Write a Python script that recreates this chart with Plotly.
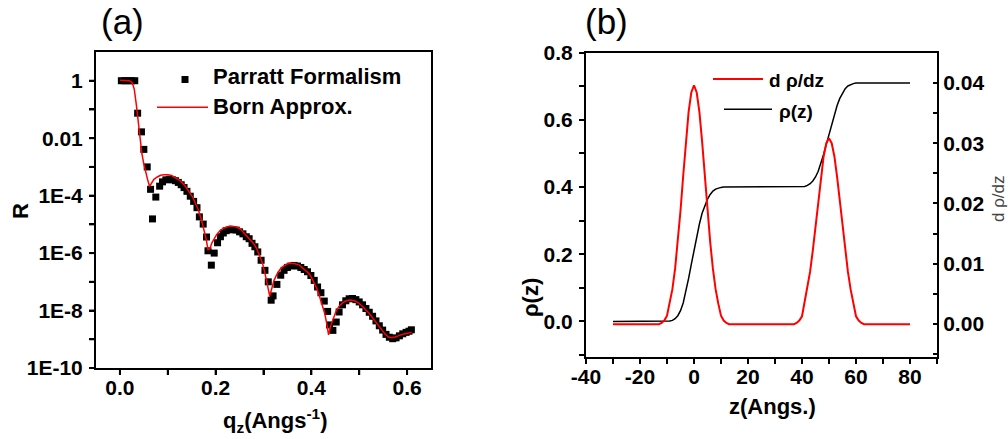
import plotly.graph_objects as go

W, H = 1008, 439

# ---------------- panel (a): reflectivity (R stored as log10 R) ----------------
parratt_q = [0.003, 0.010, 0.017, 0.024, 0.031, 0.037, 0.045, 0.050, 0.057, 0.064,
             0.068, 0.075, 0.083, 0.089, 0.096, 0.103, 0.110, 0.116, 0.122, 0.128,
             0.134, 0.140, 0.147, 0.154, 0.161, 0.166, 0.174, 0.181, 0.184, 0.191,
             0.197, 0.204, 0.210, 0.216, 0.222, 0.229, 0.236, 0.243, 0.250, 0.257,
             0.264, 0.270, 0.276, 0.282, 0.288, 0.295, 0.303, 0.310, 0.316, 0.320,
             0.328, 0.336, 0.343, 0.350, 0.357, 0.364, 0.371, 0.378, 0.385, 0.392,
             0.399, 0.406, 0.413, 0.420, 0.427, 0.434, 0.438, 0.445, 0.452, 0.458,
             0.465, 0.472, 0.479, 0.486, 0.493, 0.500, 0.507, 0.514, 0.521, 0.528,
             0.535, 0.542, 0.549, 0.556, 0.563, 0.570, 0.577, 0.584, 0.591, 0.598,
             0.604, 0.609]
parratt_log10_R = [0.0, 0.0, 0.0, 0.0, 0.0, -1.13, -1.78, -2.39, -3.0, -3.78,
                   -4.81, -4.05, -3.67, -3.52, -3.45, -3.43, -3.45, -3.48, -3.54, -3.62,
                   -3.72, -3.85, -4.02, -4.2, -4.42, -4.74, -4.99, -5.44, -5.92, -6.42,
                   -6.0, -5.64, -5.43, -5.3, -5.22, -5.19, -5.18, -5.2, -5.26, -5.33,
                   -5.43, -5.5, -5.66, -5.78, -5.96, -6.25, -6.6, -7.0, -7.64, -7.49,
                   -7.09, -6.77, -6.6, -6.5, -6.45, -6.43, -6.45, -6.5, -6.57, -6.65,
                   -6.78, -6.95, -7.18, -7.38, -7.67, -8.03, -8.5, -8.69, -8.4, -8.05,
                   -7.8, -7.66, -7.59, -7.58, -7.62, -7.7, -7.8, -7.93, -8.06, -8.2,
                   -8.36, -8.53, -8.68, -8.83, -8.93, -8.98, -8.95, -8.88, -8.81, -8.76,
                   -8.72, -8.67]

born_q = [0.000, 0.010, 0.020, 0.026, 0.030, 0.034, 0.038, 0.042, 0.046, 0.050,
          0.054, 0.058, 0.062, 0.066, 0.071, 0.078, 0.085, 0.092, 0.100, 0.108,
          0.116, 0.124, 0.131, 0.138, 0.145, 0.152, 0.158, 0.164, 0.170, 0.175,
          0.180, 0.184, 0.188, 0.192, 0.197, 0.202, 0.208, 0.215, 0.222, 0.230,
          0.238, 0.245, 0.252, 0.259, 0.266, 0.273, 0.280, 0.286, 0.292, 0.298,
          0.303, 0.308, 0.313, 0.317, 0.322, 0.328, 0.334, 0.341, 0.349, 0.357,
          0.366, 0.375, 0.383, 0.391, 0.398, 0.405, 0.411, 0.417, 0.423, 0.428,
          0.432, 0.436, 0.440, 0.445, 0.451, 0.458, 0.466, 0.474, 0.482, 0.490,
          0.498, 0.506, 0.514, 0.522, 0.530, 0.538, 0.546, 0.554, 0.561, 0.568,
          0.575, 0.582, 0.590, 0.598, 0.605, 0.610]
born_log10_R = [0.02, 0.02, 0.0, -0.08, -0.3, -0.8, -1.4, -2.0, -2.55, -2.9,
                -3.2, -3.45, -3.68, -3.55, -3.43, -3.35, -3.29, -3.27, -3.27, -3.3,
                -3.37, -3.46, -3.57, -3.7, -3.88, -4.05, -4.28, -4.5, -4.82, -5.12,
                -5.5, -5.88, -5.85, -5.65, -5.5, -5.36, -5.24, -5.15, -5.1, -5.06,
                -5.07, -5.1, -5.17, -5.28, -5.42, -5.55, -5.68, -5.85, -6.08, -6.36,
                -6.7, -7.1, -7.5, -7.25, -6.95, -6.74, -6.58, -6.46, -6.38, -6.35,
                -6.37, -6.42, -6.52, -6.65, -6.78, -7.0, -7.22, -7.5, -7.8, -8.1,
                -8.45, -8.85, -8.55, -8.3, -8.05, -7.85, -7.72, -7.65, -7.63, -7.66,
                -7.73, -7.84, -7.97, -8.12, -8.3, -8.48, -8.66, -8.82, -8.92, -8.95,
                -8.92, -8.87, -8.83, -8.8, -8.78, -8.76]

# every decade gets a tick, every second one a label
r_decades = [-10, -9, -8, -7, -6, -5, -4, -3, -2, -1, 0]
r_ticktext = ["1E-10", "", "1E-8", "", "1E-6", "", "1E-4", "", "0.01", "", "1"]
q_tickvals = [0.0, 0.1, 0.2, 0.3, 0.4, 0.5, 0.6]
q_ticktext = ["0.0", "", "0.2", "", "0.4", "", "0.6"]

# ---------------- panel (b): density profile ----------------
z = list(range(-30, 81))
rho = ([0.0] * 21 +
       [0.001, 0.003, 0.008, 0.017, 0.032, 0.055, 0.088, 0.128, 0.170, 0.212,
        0.253, 0.290, 0.322, 0.346, 0.364, 0.378, 0.388, 0.394, 0.397, 0.399] +
       [0.400] * 30 +
       [0.402, 0.405, 0.410, 0.418, 0.430, 0.447, 0.470, 0.497, 0.527, 0.557,
        0.588, 0.617, 0.643, 0.664, 0.681, 0.693, 0.701, 0.705, 0.708] +
       [0.710] * 21)
drho_dz = ([0.0] * 18 +
           [0.0002, 0.0006, 0.0014, 0.0034, 0.0058, 0.0092, 0.0136, 0.0188, 0.0246,
            0.0303, 0.0352, 0.0384, 0.0396, 0.0384, 0.0352, 0.0303, 0.0246, 0.0188,
            0.0136, 0.0092, 0.0058, 0.0034, 0.0014, 0.0006, 0.0002] +
           [0.0] * 25 +
           [0.0002, 0.0006, 0.0013, 0.0036, 0.0058, 0.0087, 0.0122, 0.0161, 0.0204,
            0.0244, 0.0278, 0.0300, 0.0308, 0.0300, 0.0278, 0.0244, 0.0204, 0.0161,
            0.0122, 0.0087, 0.0058, 0.0036, 0.0013, 0.0006, 0.0002] +
           [0.0] * 18)

z_tickvals = [-40, -30, -20, -10, 0, 10, 20, 30, 40, 50, 60, 70, 80, 90]
z_ticktext = ["-40", "", "-20", "", "0", "", "20", "", "40", "", "60", "", "80", ""]
rho_tickvals = [-0.1, 0.0, 0.1, 0.2, 0.3, 0.4, 0.5, 0.6, 0.7, 0.8]
rho_ticktext = ["", "0.0", "", "0.2", "", "0.4", "", "0.6", "", "0.8"]
drho_tickvals = [-0.005, 0.0, 0.005, 0.01, 0.015, 0.02, 0.025, 0.03, 0.035, 0.04, 0.045]
drho_ticktext = ["", "0.00", "", "0.01", "", "0.02", "", "0.03", "", "0.04", ""]

FONT = "Liberation Sans"
tick_font = dict(family=FONT, size=21, color="black", weight="bold")

# pixel boxes of the two panels (left, top, right, bottom)
A_BOX = (96, 52, 431, 368)
B_BOX = (586, 52.7, 937, 356.7)
Q_RANGE = [-0.05, 0.65]
LOGR_RANGE = [-10, 1]


def px(x):
    return x / W


def py(y):
    return 1 - y / H


fig = go.Figure()

fig.add_trace(go.Scatter(
    x=parratt_q, y=parratt_log10_R, mode="markers",
    marker=dict(symbol="square", size=7, color="black"),
    xaxis="x", yaxis="y", name="Parratt Formalism"))
fig.add_trace(go.Scatter(
    x=born_q, y=born_log10_R, mode="lines",
    line=dict(color="#ff0000", width=1.5),
    xaxis="x", yaxis="y", name="Born Approx."))

fig.add_trace(go.Scatter(
    x=z, y=rho, mode="lines", line=dict(color="black", width=1.5),
    xaxis="x2", yaxis="y2", name="\u03c1(z)"))
fig.add_trace(go.Scatter(
    x=z, y=drho_dz, mode="lines", line=dict(color="#ff0000", width=2),
    xaxis="x2", yaxis="y3", name="d \u03c1/dz"))

axis_common = dict(showline=True, linewidth=2, linecolor="black", showgrid=False,
                   zeroline=False, ticks="outside", ticklen=5, tickwidth=2,
                   tickcolor="black", tickfont=tick_font, automargin=False,
                   tickmode="array")
x_extra = dict(ticklabelstandoff=-5)
y_extra = dict(ticklabelstandoff=2)

fig.update_layout(
    template="none",
    width=W, height=H, autosize=False,
    margin=dict(l=0, r=0, t=0, b=0, pad=0),
    paper_bgcolor="white", plot_bgcolor="rgba(0,0,0,0)",
    showlegend=False,
    font=dict(family=FONT, color="black"),
    xaxis=dict(axis_common, **x_extra, domain=[px(A_BOX[0]), px(A_BOX[2])],
               range=Q_RANGE, anchor="y", mirror=True,
               tickvals=q_tickvals, ticktext=q_ticktext),
    yaxis=dict(axis_common, **y_extra, domain=[py(A_BOX[3]), py(A_BOX[1])],
               range=LOGR_RANGE, anchor="x", mirror=True,
               tickvals=r_decades, ticktext=r_ticktext),
    xaxis2=dict(axis_common, **x_extra, domain=[px(B_BOX[0]), px(B_BOX[2])],
                range=[-40, 90], anchor="y2", mirror=True,
                tickvals=z_tickvals, ticktext=z_ticktext),
    yaxis2=dict(axis_common, **y_extra, domain=[py(B_BOX[3]), py(B_BOX[1])],
                range=[-0.105, 0.8], anchor="x2", mirror=True,
                tickvals=rho_tickvals, ticktext=rho_ticktext),
    # right-hand scale of panel (b): same box, its own subplot
    yaxis3=dict(axis_common, domain=[py(B_BOX[3]), py(B_BOX[1])], side="right",
                anchor="x2", range=[-0.0054, 0.045], ticks="inside", ticklen=4,
                tickvals=drho_tickvals, ticktext=drho_ticktext),
)

annotations = []


def label(text, x, y, size, bold=True, angle=0, xanchor="center", color="black"):
    annotations.append(dict(
        text=text, x=px(x), y=py(y), xref="paper", yref="paper",
        xanchor=xanchor, yanchor="middle", showarrow=False, textangle=angle,
        font=dict(family=FONT, size=size, color=color,
                  weight="bold" if bold else "normal")))


# panel letters
label("(a)", 122, 22, 35, bold=False)
label("(b)", 606, 22, 35, bold=False)

# axis titles
label("R", 20, 211, 22, angle=-90)
label("q<sub>z</sub>(Angs<sup>-1</sup>)", 275, 420, 22)
label("z(Angs.)", 772, 406, 22)
label("\u03c1(z)", 530, 298, 22, angle=-90)
label("d \u03c1/dz", 998, 199, 17, bold=False, angle=-90, color="#444444")

# legend of panel (a)
label("Parratt Formalism", 211, 77, 22, xanchor="left")
label("Born Approx.", 211, 107, 22, xanchor="left")
# legend of panel (b)
label("d \u03c1/dz", 767, 80, 19, xanchor="left")
label("\u03c1(z)", 777, 111, 19, xanchor="left")

shapes = [
    dict(type="rect", xref="paper", yref="paper", x0=px(181.5), x1=px(188.5),
         y0=py(83), y1=py(76), fillcolor="black", line=dict(width=0)),
    dict(type="line", xref="paper", yref="paper", x0=px(157), x1=px(208),
         y0=py(107.3), y1=py(107.3), line=dict(color="#ff0000", width=1.5)),
    dict(type="line", xref="paper", yref="paper", x0=px(724), x1=px(772),
         y0=py(109.3), y1=py(109.3), line=dict(color="black", width=1.5)),
    dict(type="line", xref="paper", yref="paper", x0=px(713), x1=px(763),
         y0=py(79), y1=py(79), line=dict(color="#ff0000", width=2)),
]

# frame and tick marks of panel (a), laid exactly over its axis lines
black2 = dict(color="black", width=2)
shapes.append(dict(type="rect", xref="paper", yref="paper",
                   x0=px(A_BOX[0] - 1), x1=px(A_BOX[2] + 1),
                   y0=py(A_BOX[3] + 1), y1=py(A_BOX[1] - 1), line=black2))
a_w = A_BOX[2] - A_BOX[0]
a_h = A_BOX[3] - A_BOX[1]
for q in q_tickvals:
    xq = A_BOX[0] + (q - Q_RANGE[0]) / (Q_RANGE[1] - Q_RANGE[0]) * a_w
    shapes.append(dict(type="line", xref="paper", yref="paper", x0=px(xq), x1=px(xq),
                       y0=py(A_BOX[3] + 2), y1=py(A_BOX[3] + 7), line=black2))
for d in r_decades:
    yd = A_BOX[3] - (d - LOGR_RANGE[0]) / (LOGR_RANGE[1] - LOGR_RANGE[0]) * a_h
    shapes.append(dict(type="line", xref="paper", yref="paper", x0=px(A_BOX[0] - 7),
                       x1=px(A_BOX[0] - 2), y0=py(yd), y1=py(yd), line=black2))

fig.update_layout(annotations=annotations, shapes=shapes)

fig.write_html("out.html")
